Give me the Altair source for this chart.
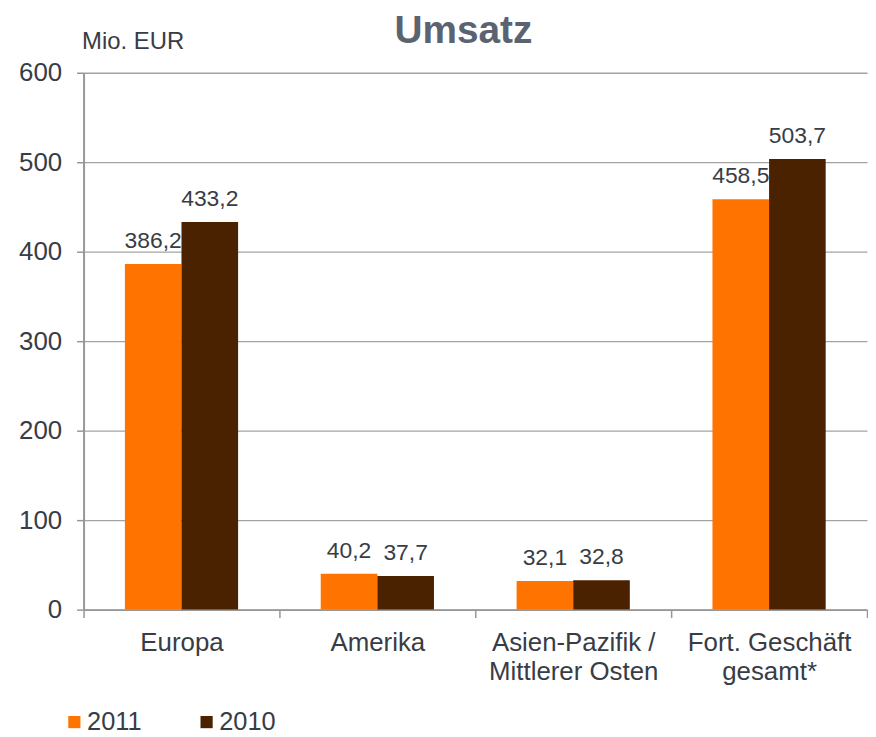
import altair as alt
import pandas as pd

categories = ["Europa", "Amerika", "Asien-Pazifik /\nMittlerer Osten", "Fort. Geschäft\ngesamt*"]
years = ["2011", "2010"]
values_2011 = [386.2, 40.2, 32.1, 458.5]
values_2010 = [433.2, 37.7, 32.8, 503.7]
y_ticks = [0, 100, 200, 300, 400, 500, 600]
colors = ["#FF7300", "#4A2200"]

rows = []
for c, v1, v0 in zip(categories, values_2011, values_2010):
    rows.append({"Region": c, "Jahr": "2011", "Umsatz": v1})
    rows.append({"Region": c, "Jahr": "2010", "Umsatz": v0})
df = pd.DataFrame(rows)

FONT = "Liberation Sans"
TXT = "#383c45"
GRAY = "#979797"

base = alt.Chart(df).transform_calculate(
    label="replace(format(datum.Umsatz, '.1f'), '.', ',')"
).encode(
    x=alt.X(
        "Region:N",
        sort=categories,
        scale=alt.Scale(paddingInner=0, paddingOuter=0),
        axis=alt.Axis(
            title=None,
            labelAngle=0,
            tickBand="extent",
            labelExpr="split(datum.label, '\\n')",
            labelFontSize=26,
            labelFont=FONT,
            labelColor=TXT,
            labelLineHeight=29,
            labelPadding=12,
            labelBaseline="top",
            tickSize=8,
            tickColor=GRAY,
            tickWidth=1.5,
            domainColor=GRAY,
            domainWidth=2,
            grid=False,
        ),
    ),
    xOffset=alt.XOffset(
        "Jahr:N", sort=years, scale=alt.Scale(domain=years, paddingInner=0, paddingOuter=0.73)
    ),
)

bars = base.mark_bar().encode(
    y=alt.Y(
        "Umsatz:Q",
        scale=alt.Scale(domain=[0, 600], nice=False),
        axis=alt.Axis(
            values=y_ticks,
            title="Mio. EUR",
            titleAngle=0,
            titleX=-2,
            titleY=-24,
            titleAlign="left",
            titleBaseline="alphabetic",
            titleFont=FONT,
            titleFontSize=24,
            titleFontWeight="normal",
            titleColor=TXT,
            labelFont=FONT,
            labelFontSize=26,
            labelColor=TXT,
            labelPadding=15,
            tickSize=7,
            tickColor=GRAY,
            tickWidth=1.5,
            domainColor=GRAY,
            domainWidth=2,
            grid=True,
            gridColor="#a3a3a3",
            gridWidth=1.3,
        ),
    ),
    color=alt.Color(
        "Jahr:N",
        sort=years,
        scale=alt.Scale(domain=years, range=colors),
        legend=alt.Legend(
            title=None,
            orient="none",
            legendX=-22,
            legendY=640,
            direction="horizontal",
            symbolType="square",
            symbolSize=150,
            symbolStrokeWidth=0,
            labelFont=FONT,
            labelFontSize=25.5,
            labelColor=TXT,
            labelOffset=0,
            columnPadding=52,
            padding=0,
        ),
    ),
)

text = base.mark_text(
    dy=-16, baseline="alphabetic", fontSize=23, font=FONT, color=TXT
).encode(
    y=alt.Y("Umsatz:Q"),
    text="label:N",
)

chart = (
    alt.layer(bars, text)
    .properties(
        width=788,
        height=540,
        padding={"left": 10, "top": 2, "right": 0, "bottom": 0},
        title=alt.Title(
            "Umsatz",
            fontSize=39,
            fontWeight="bold",
            font=FONT,
            color="#5b6370",
            anchor="middle",
            frame="group",
            dx=-12,
            offset=-21,
        ),
    )
    .configure_view(stroke=None)
)

chart.save("out.html", embed_options={"renderer": "svg", "actions": False})
